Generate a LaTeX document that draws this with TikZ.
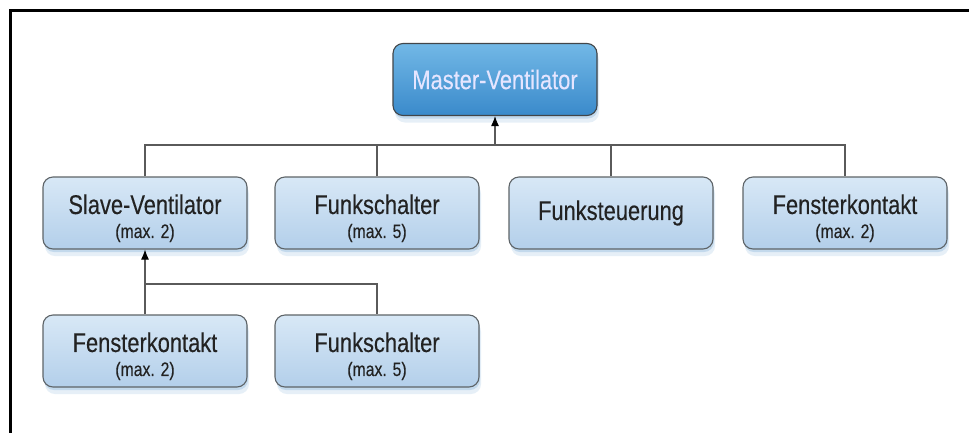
\documentclass[tikz,border=0pt]{standalone}
\usepackage{fontspec}
\setmainfont{Liberation Sans}[FakeStretch=0.81,FakeBold=0.25]
\usetikzlibrary{arrows.meta,shadows}
\definecolor{boxtop}{HTML}{D8E8F6}
\definecolor{boxbot}{HTML}{B3CFEA}
\definecolor{mtop}{HTML}{72B8E6}
\definecolor{mbot}{HTML}{3A8ACB}
\definecolor{edgec}{HTML}{5E6468}
\definecolor{connc}{HTML}{5A5A5A}
\definecolor{txtc}{HTML}{222222}
\definecolor{shadc}{HTML}{8FB9DE}
\newcommand{\smallline}{\fontsize{19.5}{24}\selectfont}
\newcommand{\topstrut}{\rule{0pt}{30pt}}
\begin{document}
\begin{tikzpicture}[x=1pt,y=-1pt,
  box/.style={draw=edgec, line width=1.1pt, rounded corners=10pt,
    minimum width=204pt, minimum height=72pt, inner sep=0pt,
    top color=boxtop, bottom color=boxbot, text=txtc, align=center,
    font=\fontsize{27}{24}\selectfont,
    drop shadow={shadow xshift=1pt, shadow yshift=-3pt, fill=shadc, opacity=0.4},
    drop shadow={shadow xshift=2pt, shadow yshift=-7pt, fill=shadc, opacity=0.22}},
  mbox/.style={box, top color=mtop, bottom color=mbot, draw=edgec!70!black, text=white!90!blue},
  conn/.style={draw=connc, line width=1.1pt},
  arr/.style={conn, -{Latex[length=10pt,width=8pt,black]}}]
\useasboundingbox (0,0) rectangle (969,432);
\fill[white] (0,0) rectangle (969,432);
\draw[line width=3pt, line cap=rect] (10,432) -- (10,10) -- (969,10);

\node[mbox] (m) at (495,79.5) {Master-Ventilator};

\node[box] (s1) at (145,213) {\topstrut Slave-Ventilator\\\smallline (max. 2)};
\node[box] (s2) at (377,213) {\topstrut Funkschalter\\\smallline (max. 5)};
\node[box] (s3) at (611,213) {Funksteuerung};
\node[box] (s4) at (845,213) {\topstrut Fensterkontakt\\\smallline (max. 2)};

\node[box] (r1) at (145,351) {\topstrut Fensterkontakt\\\smallline (max. 2)};
\node[box] (r2) at (377,351) {\topstrut Funkschalter\\\smallline (max. 5)};

\coordinate (b1) at (495,145);
\coordinate (b2) at (145,284);

\draw[conn] (s1.north) |- (b1) -| (s4.north);
\draw[conn] (s2.north) -- (s2.north |- b1);
\draw[conn] (s3.north) -- (s3.north |- b1);
\draw[arr] (b1) -- (m.south);

\draw[conn] (r1.north) -- (b2) -| (r2.north);
\draw[arr] (b2) -- (s1.south);
\end{tikzpicture}
\end{document}
